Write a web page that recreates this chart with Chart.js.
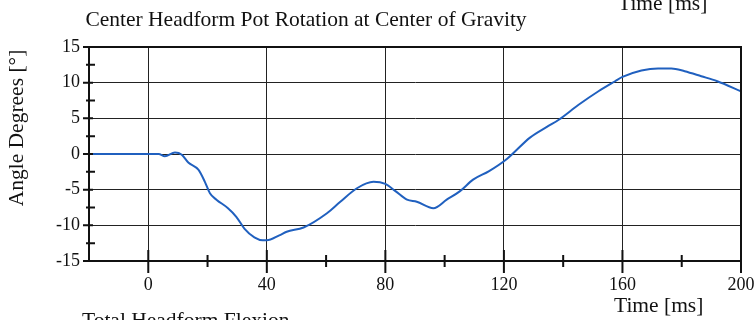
<!DOCTYPE html>
<html>
<head>
<meta charset="utf-8">
<script src="https://cdn.jsdelivr.net/npm/chart.js@4/dist/chart.umd.min.js"></script>
<style>
  html, body { margin: 0; padding: 0; background: #fff; }
  canvas { display: block; }
</style>
</head>
<body>
<canvas id="rot" width="754" height="320"></canvas>
<script>
// Pot rotation trace, time in ms, angle in degrees
const timeMs = [-20, 0, 3.5, 5.6, 9, 11.3, 13.5, 16.9, 19.1, 20.8, 23, 26.9, 29.7, 32.5, 35.8, 38.6, 40,
  44.2, 46.7, 52.4, 60.3, 64.8, 70.4, 76, 80, 83.4, 87.3, 90.6, 96.2, 100.7, 105.2, 109.6, 115, 121,
  128.8, 134.5, 138.5, 145.2, 151.9, 157.5, 160, 166.4, 172, 176.5, 181, 186.6, 192, 200];
const angleDeg = [0, 0, 0, -0.3, 0.2, -0.1, -1.2, -2.2, -3.9, -5.5, -6.4, -7.6, -8.8, -10.5, -11.7, -12.1, -12.1,
  -11.4, -10.9, -10.3, -8.3, -6.7, -4.8, -3.9, -4.2, -5.2, -6.4, -6.7, -7.6, -6.4, -5.2, -3.6, -2.4, -0.7,
  2.3, 3.8, 4.8, 6.9, 8.8, 10.2, 10.8, 11.7, 12.0, 12.0, 11.6, 10.9, 10.2, 8.8];

const xTicks = [0, 40, 80, 120, 160, 200];
const xMinor = [20, 60, 100, 140, 180];
const yMinor = [-12.5, -7.5, -2.5, 2.5, 7.5, 12.5];

const SERIF = '"Liberation Serif", "Times New Roman", serif';
const INK = "#111";

// frame, cross-shaped tick marks and the page captions
const decor = {
  id: "decor",
  afterDraw(chart) {
    const { ctx, chartArea: a, scales: { x, y } } = chart;
    ctx.save();
    ctx.strokeStyle = INK;
    ctx.lineWidth = 2;
    ctx.beginPath();
    ctx.moveTo(a.left, a.top); ctx.lineTo(a.right, a.top); ctx.lineTo(a.right, a.bottom);
    ctx.stroke();

    ctx.beginPath();
    xTicks.forEach(v => { const px = x.getPixelForValue(v); ctx.moveTo(px, a.bottom - 11); ctx.lineTo(px, a.bottom + 12); });
    xMinor.forEach(v => { const px = x.getPixelForValue(v); ctx.moveTo(px, a.bottom - 6); ctx.lineTo(px, a.bottom + 6); });
    y.ticks.forEach(t => { const py = y.getPixelForValue(t.value); ctx.moveTo(a.left - 6, py); ctx.lineTo(a.left + 4, py); });
    yMinor.forEach(v => { const py = y.getPixelForValue(v); ctx.moveTo(a.left - 3, py); ctx.lineTo(a.left + 6, py); });
    ctx.stroke();

    ctx.fillStyle = INK;
    ctx.font = "21.5px " + SERIF;
    ctx.textBaseline = "alphabetic";
    ctx.textAlign = "center";
    ctx.fillText("Center Headform Pot Rotation at Center of Gravity", 306, 26);
    ctx.textAlign = "left";
    ctx.fillText("Time [ms]", 614, 312);
    ctx.fillText("Time [ms]", 618, 10);
    ctx.fillText("Total Headform Flexion", 82, 327);

    ctx.translate(23, 128);
    ctx.rotate(-Math.PI / 2);
    ctx.textAlign = "center";
    ctx.fillText("Angle Degrees [\u00b0]", 0, 0);
    ctx.restore();
  }
};

new Chart(document.getElementById("rot"), {
  type: "line",
  data: {
    datasets: [{
      data: timeMs.map((t, i) => ({ x: t, y: angleDeg[i] })),
      borderColor: "#2060bf",
      borderWidth: 2,
      pointRadius: 0,
      cubicInterpolationMode: "monotone",
      fill: false
    }]
  },
  options: {
    responsive: false,
    animation: false,
    layout: { padding: { top: 47, right: 0, left: 0, bottom: 0 } },
    plugins: { legend: { display: false }, tooltip: { enabled: false } },
    scales: {
      x: {
        type: "linear",
        min: -20, max: 200,
        afterBuildTicks: s => { s.ticks = xTicks.map(v => ({ value: v })); },
        afterFit: s => { s.height = 59; s.paddingRight = 13; },
        grid: { color: "#222", lineWidth: 1, drawTicks: false },
        border: { color: INK, width: 2 },
        ticks: { color: INK, padding: 13, maxRotation: 0, font: { family: SERIF, size: 18 } }
      },
      y: {
        min: -15, max: 15,
        afterFit: s => { s.width = 89; },
        grid: { color: "#222", lineWidth: 1, drawTicks: false },
        border: { color: INK, width: 2 },
        ticks: { stepSize: 5, color: INK, padding: 9, font: { family: SERIF, size: 18 } }
      }
    }
  },
  plugins: [decor]
});
</script>
</body>
</html>
